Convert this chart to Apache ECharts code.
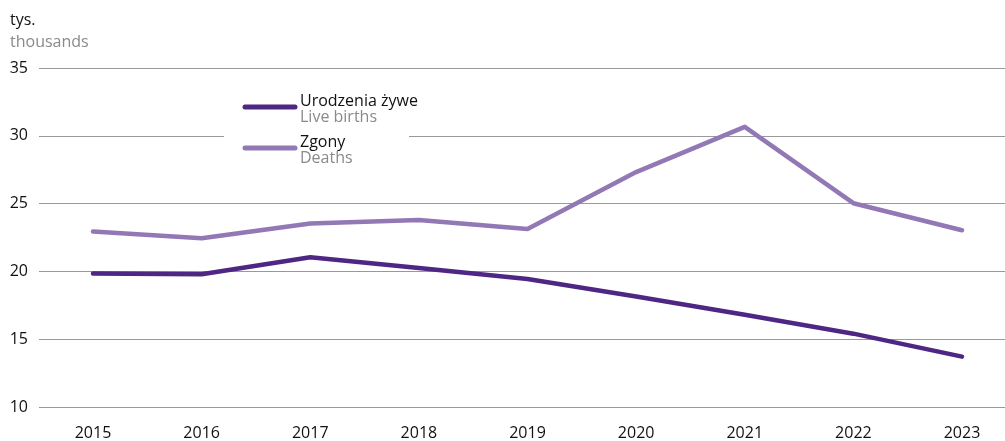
<!DOCTYPE html>
<html>
<head>
<meta charset="utf-8">
<script src="https://cdn.jsdelivr.net/npm/echarts@6/dist/echarts.min.js"></script>
<style>
  html, body { margin: 0; padding: 0; background: #fff; }
  #chart { width: 1005px; height: 441px; }
</style>
</head>
<body>
<div id="chart"></div>
<script>
// Years on the category axis
const years = ['2015', '2016', '2017', '2018', '2019', '2020', '2021', '2022', '2023'];
// Live births, thousands
const liveBirths = [19.8, 19.75, 21.0, 20.2, 19.4, 18.1, 16.75, 15.35, 13.65];
// Deaths, thousands
const deaths = [22.9, 22.4, 23.5, 23.75, 23.1, 27.3, 30.65, 25.0, 23.0];
// Value axis range and step
const yMin = 10, yMax = 35, yStep = 5;

const FONT = '"Open Sans", "Noto Sans", sans-serif';
const DARK = '#4e2683';
const LIGHT = '#9278b5';

const chart = echarts.init(document.getElementById('chart'));

// Legend block drawn as graphic elements
function legendItem(y, color, pl, en) {
  return [
    { type: 'line', shape: { x1: 245, y1: y, x2: 295, y2: y },
      style: { stroke: color, lineWidth: 5, lineCap: 'round' }, z: 101 },
    { type: 'text', x: 300, y: y - 6,
      style: { text: pl, font: '16px ' + FONT, fill: '#111', textVerticalAlign: 'middle' }, z: 101 },
    { type: 'text', x: 300, y: y + 10,
      style: { text: en, font: '16px ' + FONT, fill: '#8a8a8a', textVerticalAlign: 'middle' }, z: 101 }
  ];
}

chart.setOption({
  animation: false,
  // grid 0: full-width gridlines and value labels; grid 1: plotted lines and years
  grid: [
    { left: 39, right: 0, top: 68, bottom: 34 },
    { left: 93, right: 43, top: 68, bottom: 34 }
  ],
  xAxis: [
    { gridIndex: 0, type: 'value', min: 0, max: 1, show: false },
    {
      gridIndex: 1,
      type: 'category',
      data: years,
      boundaryGap: false,
      axisLine: { show: false },
      axisTick: { show: false },
      splitLine: { show: false },
      axisLabel: { color: '#111', fontFamily: FONT, fontSize: 16, margin: 19 }
    }
  ],
  yAxis: [
    {
      gridIndex: 0,
      type: 'value',
      min: yMin, max: yMax, interval: yStep,
      axisLine: { show: false },
      axisTick: { show: false },
      axisLabel: { color: '#111', fontFamily: FONT, fontSize: 16, margin: 11, align: 'right' },
      splitLine: { lineStyle: { color: '#999', width: 1 } }
    },
    {
      gridIndex: 1,
      type: 'value',
      min: yMin, max: yMax, interval: yStep,
      show: false,
      splitLine: { show: false }
    }
  ],
  series: [
    { name: 'Urodzenia żywe', type: 'line', data: liveBirths, symbol: 'none',
      xAxisIndex: 1, yAxisIndex: 1,
      lineStyle: { color: DARK, width: 4.5, cap: 'round', join: 'round' }, z: 3 },
    { name: 'Zgony', type: 'line', data: deaths, symbol: 'none',
      xAxisIndex: 1, yAxisIndex: 1,
      lineStyle: { color: LIGHT, width: 4.5, cap: 'round', join: 'round' }, z: 2 }
  ],
  graphic: [
    { type: 'text', x: 10, y: 20,
      style: { text: 'tys.', font: '16px ' + FONT, fill: '#111', textVerticalAlign: 'middle' } },
    { type: 'text', x: 10, y: 42,
      style: { text: 'thousands', font: '16px ' + FONT, fill: '#8a8a8a', textVerticalAlign: 'middle' } },
    { type: 'rect', shape: { x: 224, y: 90, width: 185, height: 76 },
      style: { fill: '#fff' }, z: 100 },
    ...legendItem(107, DARK, 'Urodzenia żywe', 'Live births'),
    ...legendItem(148, LIGHT, 'Zgony', 'Deaths')
  ]
});
</script>
</body>
</html>
